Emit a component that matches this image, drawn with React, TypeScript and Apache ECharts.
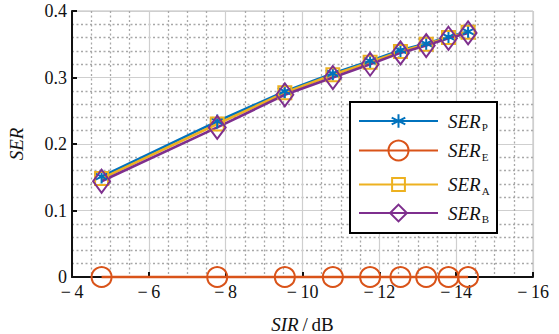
import React, { useEffect, useRef } from "react";
import * as echarts from "echarts";

const sirValues = [-4.77, -7.78, -9.54, -10.79, -11.76, -12.55, -13.22, -13.8, -14.31];
const serP = [0.151, 0.234, 0.279, 0.306, 0.325, 0.341, 0.351, 0.361, 0.369];
const serE = [0, 0, 0, 0, 0, 0, 0, 0, 0];
const serA = [0.148, 0.23, 0.277, 0.304, 0.323, 0.339, 0.35, 0.36, 0.368];
const serB = [0.144, 0.225, 0.274, 0.3, 0.32, 0.337, 0.348, 0.359, 0.367];
const xTicks = { min: -16, max: -4, interval: 2 };
const yTicks = { min: 0, max: 0.4, interval: 0.1 };

const names = ["SER_P", "SER_E", "SER_A", "SER_B"];
const subs = ["P", "E", "A", "B"];
const colors = ["#0072BD", "#D95319", "#EDB120", "#7E2F8E"];

const ASTERISK = "path://M0,-10L0,10M-8.66,-5L8.66,5M-8.66,5L8.66,-5";

const FONT = "Liberation Serif";

export default function App() {
  const ref = useRef<HTMLDivElement>(null);
  useEffect(() => {
    if (!ref.current) return;
    const chart = echarts.init(ref.current, undefined, { renderer: "svg" });
    const pairs = (ys: number[]) => sirValues.map((x, i) => [x, ys[i]]);
    const symbols = [ASTERISK, "circle", "rect", "diamond"];
    const sizes: any[] = [14, 20, 13, [17, 23]];
    const datas = [serP, serE, serA, serB];
    const series = names.map((n, i) => ({
      name: n,
      type: "line",
      data: pairs(datas[i]),
      symbol: symbols[i],
      symbolSize: sizes[i],
      showSymbol: true,
      lineStyle: { color: colors[i], width: 2.6 },
      itemStyle: {
        color: "rgba(0,0,0,0)",
        borderColor: colors[i],
        borderWidth: 2,
      },
      emphasis: { disabled: true },
      clip: false,
      z: 2,
    }));
    const rowY = [120, 152, 183, 214];
    const itemHeights = [17, 25, 16, 21];
    const legends = names.map((n, i) => ({
      data: [n],
      left: 358,
      top: rowY[i] - itemHeights[i] / 2,
      orient: "vertical",
      padding: 0,
      z: 10,
      itemWidth: 79,
      itemHeight: itemHeights[i],
      selectedMode: false,
      formatter: () => `{i|SER}{s|${subs[i]}}`,
      textStyle: {
        padding: [0, 0, 0, 5],
        rich: {
          i: { fontFamily: FONT, fontStyle: "italic", fontSize: 19, color: "#111" },
          s: { fontFamily: FONT, fontSize: 11, color: "#111", padding: [12, 0, 0, 1] },
        },
      },
    }));
    chart.setOption({
      animation: false,
      backgroundColor: "#fff",
      textStyle: { fontFamily: FONT },
      grid: {
        left: 72,
        right: 26,
        top: 11,
        bottom: 57,
        outerBoundsMode: "none",
        containLabel: false,
        show: true,
        borderColor: "#bdbdbd",
        borderWidth: 1,
      },
      legend: legends,
      graphic: [
        {
          type: "rect",
          shape: { x: 350, y: 102, width: 147, height: 131 },
          style: { fill: "#fff", stroke: "#000", lineWidth: 2 },
          z: 5,
          silent: true,
        },
      ],
      xAxis: {
        type: "value",
        inverse: true,
        min: xTicks.min,
        max: xTicks.max,
        interval: xTicks.interval,
        name: "{i|SIR}{n|\u2009/\u2009dB}",
        nameLocation: "middle",
        nameGap: 38,
        nameTextStyle: {
          rich: {
            i: { fontFamily: FONT, fontStyle: "italic", fontSize: 19, color: "#111" },
            n: { fontFamily: FONT, fontSize: 19, color: "#111" },
          },
        },
        axisLine: { show: true, onZero: false, lineStyle: { color: "#111", width: 2 } },
        axisTick: { show: true, inside: true, length: 5, lineStyle: { color: "#111", width: 2 } },
        axisLabel: {
          fontFamily: FONT,
          fontSize: 18,
          lineHeight: 14,
          color: "#111",
          margin: 8,
          formatter: (v: number) => (v < 0 ? "\u2212\u2009" + Math.abs(v) : String(v)),
        },
        splitLine: { show: true, lineStyle: { color: "#cfcfcf", width: 1.2 } },
        minorTick: { show: false, splitNumber: 4 },
        minorSplitLine: { show: true, lineStyle: { color: "#a8a8a8", type: [2, 2.5], width: 1.3 } },
      },
      yAxis: {
        type: "value",
        min: yTicks.min,
        max: yTicks.max,
        interval: yTicks.interval,
        name: "SER",
        nameLocation: "middle",
        nameGap: 46,
        nameTextStyle: { fontFamily: FONT, fontStyle: "italic", fontSize: 19, color: "#111" },
        axisLine: { show: true, lineStyle: { color: "#111", width: 2 } },
        axisTick: { show: true, inside: true, length: 5, lineStyle: { color: "#111", width: 2 } },
        axisLabel: {
          fontFamily: FONT,
          fontSize: 18,
          lineHeight: 14,
          color: "#111",
          margin: 5,
          formatter: (v: number) => (v === 0 ? "0" : v.toFixed(1)),
        },
        splitLine: { show: true, lineStyle: { color: "#cfcfcf", width: 1.2 } },
        minorTick: { show: false, splitNumber: 5 },
        minorSplitLine: { show: true, lineStyle: { color: "#a8a8a8", type: [2, 2.5], width: 1.3 } },
      },
      series,
    });
    return () => chart.dispose();
  }, []);
  return <div ref={ref} style={{ width: 559, height: 334, position: "absolute", left: 0, top: 0 }} />;
}
